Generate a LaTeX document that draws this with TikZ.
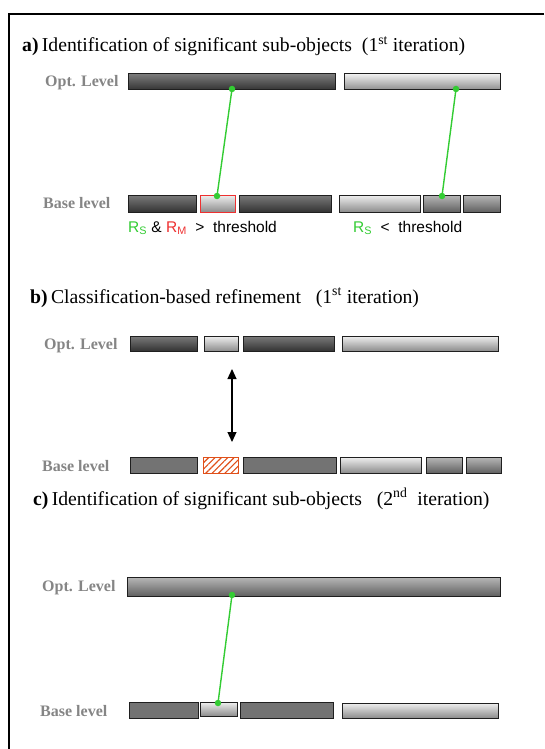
\documentclass[tikz,border=0pt]{standalone}
\usepackage{fontspec}
\setmainfont{Liberation Serif}
\newfontfamily\sansf{Liberation Sans}
\usetikzlibrary{patterns.meta,arrows.meta}
\definecolor{lgreen}{HTML}{33CC33}
\definecolor{rred}{HTML}{EE3030}
\definecolor{hatchc}{HTML}{E0501A}
\definecolor{lblgray}{HTML}{858585}
\tikzset{
  bar/.style={draw=black!88, line width=1pt, inner sep=0pt, outer sep=0pt, anchor=north west},
  darkbar/.style={bar, top color=black!52, bottom color=black!80},
  lightbar/.style={bar, top color=black!6, bottom color=black!45},
  midbar/.style={bar, top color=black!28, bottom color=black!62},
  flatbar/.style={bar, fill=black!55},
  redbar/.style={lightbar, draw=rred},
  hatchbar/.style={bar, draw=hatchc, fill=white, pattern={Lines[angle=45,distance=4.5pt,line width=1.1pt]}, pattern color=hatchc},
  dot/.style={circle, fill=lgreen, inner sep=0pt, minimum size=6.5pt},
  gline/.style={draw=lgreen, line width=1.4pt},
  title/.style={anchor=base west, inner sep=0pt, font=\fontsize{19.7}{23}\selectfont},
  lvl/.style={anchor=base west, inner sep=0pt, text=lblgray, font=\fontsize{16}{19}\selectfont\bfseries},
  thr/.style={anchor=base west, inner sep=0pt, font=\sansf\fontsize{15.5}{18}\selectfont},
}
\newcommand\mybar[6]{\node[#1,minimum width={#4pt-#2pt},minimum height={#5pt-#3pt}] (#6) at (#2,#3) {};}
\begin{document}
\begin{tikzpicture}[x=1pt,y=-1pt]
\useasboundingbox (0,0) rectangle (544,749);
\draw[line width=1.5pt] (544,14) -- (9,14) -- (9,749);

% ---- a ----
\node[title] (ta) at (22,52) {\textbf{a)}\,Identification of significant sub-objects\ \ (1\textsuperscript{st} iteration)};
\node[lvl] (oa) at (45,87) {Opt. Level};
\node[lvl] (ba) at (43,208) {Base level};
\mybar{darkbar}{128}{74}{335}{90}{ao1}
\mybar{lightbar}{344}{74}{500}{90}{ao2}
\mybar{darkbar}{128}{195}{196}{212}{ab1}
\mybar{redbar}{200}{195}{235}{212}{ab2}
\mybar{darkbar}{239}{195}{331}{212}{ab3}
\mybar{lightbar}{339}{195}{420}{212}{ab4}
\mybar{midbar}{423}{195}{460}{212}{ab5}
\mybar{midbar}{463}{195}{500}{212}{ab6}
\node[dot] (da1) at (232,89) {};
\node[dot] (da2) at (217,196) {};
\node[dot] (da3) at (456,89) {};
\node[dot] (da4) at (442,196) {};
\draw[gline] (da1.center) -- (da2.center);
\draw[gline] (da3.center) -- (da4.center);
\node[thr] (t1) at (128,232) {\textcolor{lgreen}{R\textsubscript{S}}\ \&\ \textcolor{rred}{R\textsubscript{M}}\ \ >\ \ threshold};
\node[thr] (t2) at (353,232) {\textcolor{lgreen}{R\textsubscript{S}}\ \ <\ \ threshold};

% ---- b ----
\node[title] (tb) at (30,303) {\textbf{b)}\,Classification-based refinement\ \ \ (1\textsuperscript{st} iteration)};
\node[lvl] (ob) at (44,349) {Opt. Level};
\node[lvl] (bb) at (42,471) {Base level};
\mybar{darkbar}{130}{336}{197}{351}{bo1}
\mybar{lightbar}{204}{336}{238}{351}{bo2}
\mybar{darkbar}{243}{336}{334}{351}{bo3}
\mybar{lightbar}{342}{336}{498}{351}{bo4}
\mybar{flatbar}{130}{457}{197}{473}{bb1}
\mybar{hatchbar}{203}{457}{238}{473}{bb2}
\mybar{flatbar}{243}{457}{336}{473}{bb3}
\mybar{lightbar}{340}{457}{421}{473}{bb4}
\mybar{midbar}{426}{457}{462}{473}{bb5}
\mybar{midbar}{466}{457}{501}{473}{bb6}
\coordinate (aup) at (232,369);
\coordinate (adn) at (232,442);
\draw[line width=1.2pt, {Triangle[length=10pt,width=9pt]}-{Triangle[length=10pt,width=9pt]}] (aup) -- (adn);

% ---- c ----
\node[title] (tc) at (33,505) {\textbf{c)}\,Identification of significant sub-objects\ \ \ (2\textsuperscript{nd}\ \ iteration)};
\node[lvl] (oc) at (42,591) {Opt. Level};
\node[lvl] (bc) at (40,716) {Base level};
\mybar{midbar}{127}{577}{500}{596}{co1}
\mybar{flatbar}{129}{702}{198}{718}{cb1}
\mybar{lightbar}{200}{702}{237}{716}{cb2}
\mybar{flatbar}{240}{702}{333}{718}{cb3}
\mybar{lightbar}{342}{703}{498}{718}{cb4}
\node[dot] (dc1) at (232,595) {};
\node[dot] (dc2) at (218,703) {};
\draw[gline] (dc1.center) -- (dc2.center);
\end{tikzpicture}
\end{document}
